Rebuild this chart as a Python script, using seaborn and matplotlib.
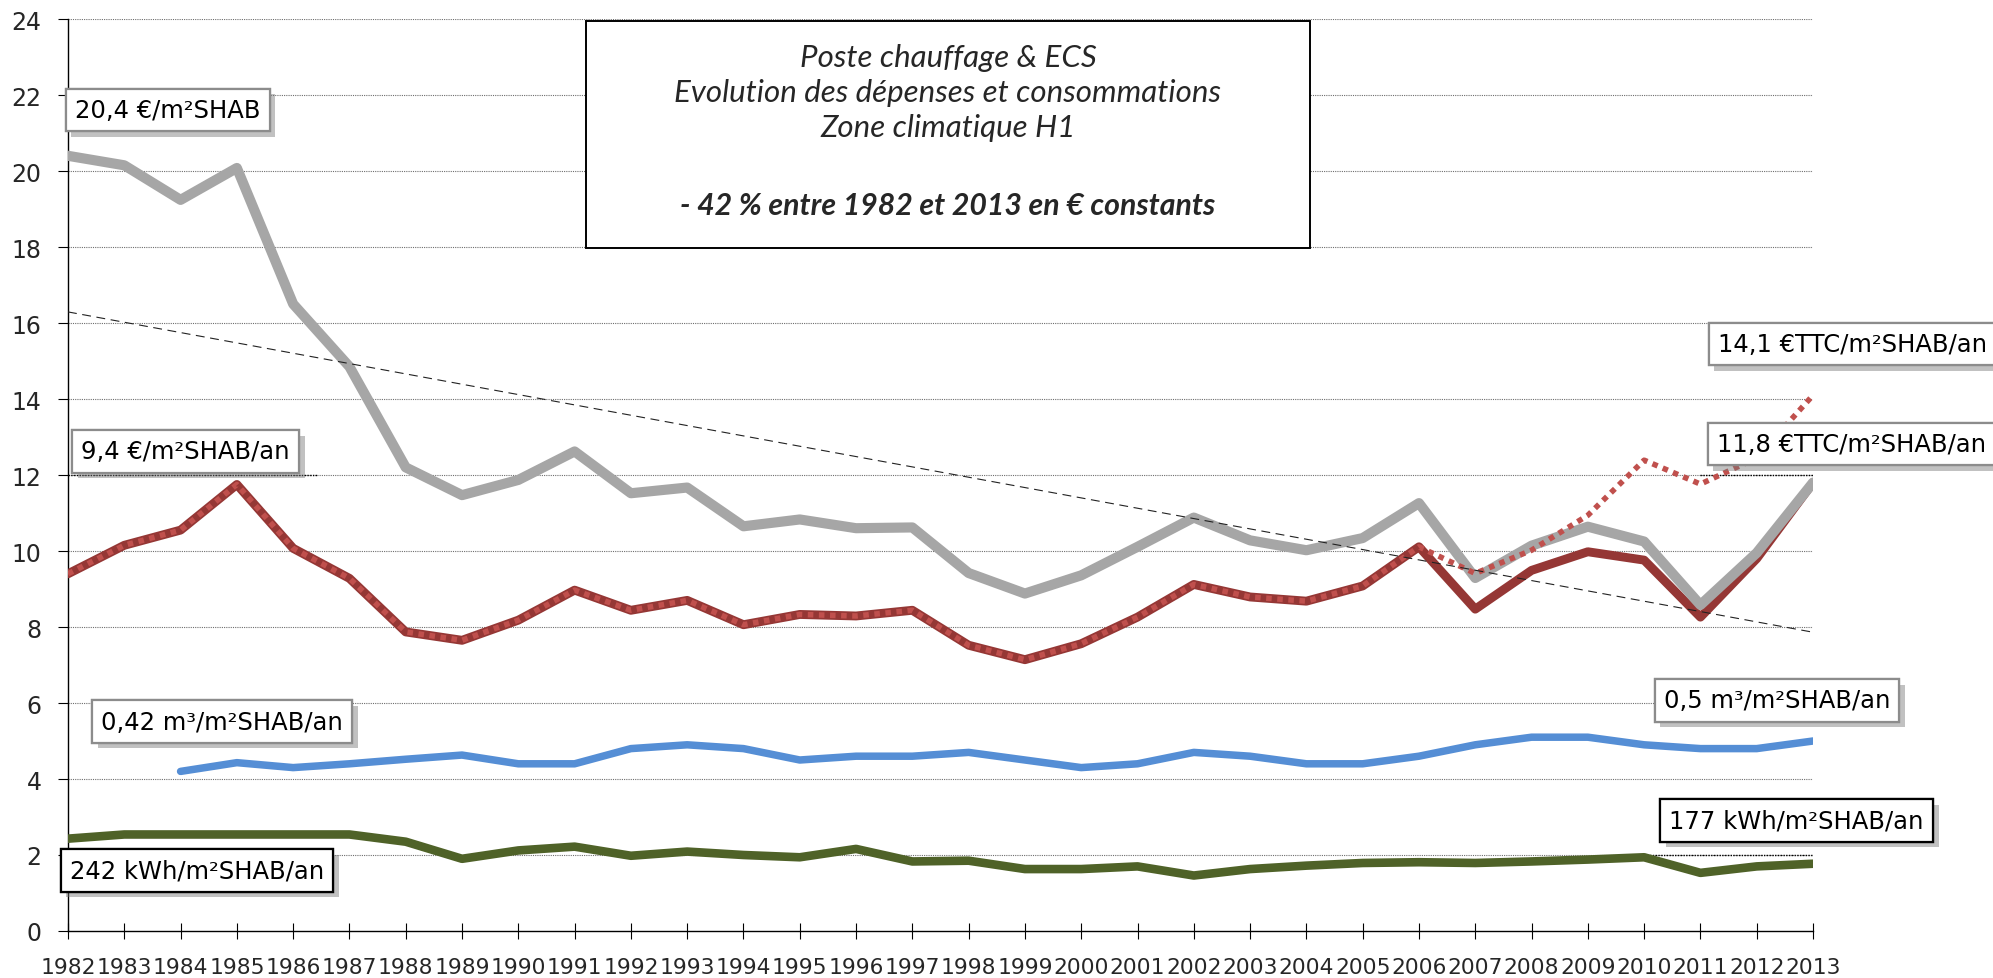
import numpy as np
import matplotlib
matplotlib.use("Agg")
import matplotlib.pyplot as plt
import matplotlib.patheffects as pe
from matplotlib.patches import Rectangle
import seaborn as sns

# ---------------- data ----------------
years = list(range(1982, 2014))
depenses_gris = [20.4, 20.15, 19.24, 20.08, 16.5, 14.85, 12.2, 11.47, 11.87, 12.62,
                 11.52, 11.67, 10.65, 10.83, 10.6, 10.62, 9.42, 8.88, 9.36, 10.11,
                 10.88, 10.28, 10.02, 10.34, 11.26, 9.29, 10.14, 10.64, 10.25, 8.58,
                 9.95, 11.8]
depenses_rouge = [9.4, 10.15, 10.55, 11.75, 10.07, 9.28, 7.87, 7.65, 8.18, 8.97,
                  8.44, 8.70, 8.06, 8.33, 8.29, 8.44, 7.52, 7.14, 7.56, 8.26,
                  9.12, 8.79, 8.68, 9.08, 10.11, 8.47, 9.49, 9.98, 9.76, 8.26,
                  9.8, 11.8]
depenses_pointille = [9.4, 10.15, 10.55, 11.75, 10.07, 9.28, 7.87, 7.65, 8.18, 8.97,
                      8.44, 8.70, 8.06, 8.33, 8.29, 8.44, 7.52, 7.14, 7.56, 8.26,
                      9.12, 8.79, 8.68, 9.08, 10.11, 9.41, 10.02, 10.94, 12.39, 11.76,
                      12.45, 14.1]
years_gaz = list(range(1984, 2014))
gaz_m3 = [4.2, 4.43, 4.3, 4.4, 4.52, 4.63, 4.4, 4.4, 4.8, 4.9,
          4.8, 4.5, 4.6, 4.6, 4.7, 4.5, 4.3, 4.4, 4.7, 4.6,
          4.4, 4.4, 4.6, 4.9, 5.1, 5.1, 4.9, 4.8, 4.8, 5.0]
conso_kwh = [2.43, 2.54, 2.54, 2.54, 2.54, 2.54, 2.35, 1.9, 2.12, 2.22,
             1.98, 2.09, 2.0, 1.94, 2.16, 1.83, 1.85, 1.63, 1.63, 1.70,
             1.46, 1.63, 1.72, 1.79, 1.81, 1.79, 1.83, 1.88, 1.94, 1.53,
             1.70, 1.77]
yticks = list(range(0, 25, 2))

title_lines = ["Poste chauffage & ECS",
               "Evolution des dépenses et consommations",
               "Zone climatique H1"]
title_bold = "- 42 % entre 1982 et 2013 en € constants"

# labels: (text, x, y, edge colour)
labels = [
    ("20,4 €/m²SHAB", 1983.77, 21.61, "#8c8c8c"),
    ("9,4 €/m²SHAB/an", 1984.09, 12.62, "#8c8c8c"),
    ("0,42 m³/m²SHAB/an", 1984.74, 5.51, "#8c8c8c"),
    ("242 kWh/m²SHAB/an", 1984.29, 1.59, "#000000"),
    ("14,1 €TTC/m²SHAB/an", 2013.70, 15.45, "#8c8c8c"),
    ("11,8 €TTC/m²SHAB/an", 2013.68, 12.81, "#8c8c8c"),
    ("0,5 m³/m²SHAB/an", 2012.36, 6.07, "#8c8c8c"),
    ("177 kWh/m²SHAB/an", 2012.71, 2.91, "#000000"),
]
leaders = [(1982, 1986.45, 12), (2011.0, 2013, 12), (2010.0, 2013, 2)]

# ---------------- figure ----------------
sns.set_theme(style="white")
plt.rcParams['font.family'] = ['DejaVu Sans']

W, H = 1993, 979
fig = plt.figure(figsize=(W / 100, H / 100), dpi=100)
ax = fig.add_axes([68 / W, 1 - 932 / H, (1813 - 68) / W, (932 - 20) / H])

# grid
for v in yticks[1:]:
    ax.axhline(v, color="#6e6e6e", lw=0.8, linestyle=(0, (1, 1)), zorder=0.5)
for x0, x1, v in leaders:
    ax.plot([x0, x1], [v, v], color="black", lw=1.0, linestyle=(0, (1, 1)),
            zorder=0.6, clip_on=False)

# series
sns.lineplot(x=years, y=depenses_rouge, color="#953735", lw=6.4, ax=ax,
             errorbar=None, zorder=3)
sns.lineplot(x=years, y=depenses_gris, color="#a6a6a6", lw=7.3, ax=ax,
             errorbar=None, zorder=4)
sns.lineplot(x=years, y=depenses_pointille, color="#c0504d", lw=4.0, ax=ax,
             errorbar=None, zorder=5, linestyle=(0, (1, 1)))
sns.lineplot(x=years_gaz, y=gaz_m3, color="#558ed5", lw=5.4, ax=ax,
             errorbar=None, zorder=3)
sns.lineplot(x=years, y=conso_kwh, color="#4f6228", lw=6.2, ax=ax,
             errorbar=None, zorder=3)

# linear trend of the grey series
coef = np.polyfit(years, depenses_gris, 1)
trend = np.polyval(coef, years)
sns.lineplot(x=years, y=trend, color="#222222", lw=0.8, ax=ax,
             errorbar=None, zorder=6, linestyle=(0, (8, 5)))

# axes
ax.set_xlim(1982, 2013)
ax.set_ylim(0, 24)
ax.set_xticks(years)
ax.set_xticklabels([str(y) for y in years])
ax.set_yticks(yticks)
ax.set_xlabel("")
ax.set_ylabel("")
for s in ["top", "right"]:
    ax.spines[s].set_visible(False)
for s in ["left", "bottom"]:
    ax.spines[s].set_color("black")
    ax.spines[s].set_linewidth(1.0)
ax.tick_params(axis="y", direction="out", length=7, width=0.8, color="black",
               labelsize=17, pad=12, left=True)
ax.tick_params(axis="x", direction="inout", length=12, width=0.8, color="black",
               labelsize=15.7, pad=13, bottom=True)
ax.grid(False)

# data labels
for txt, x, y, ec in labels:
    t = ax.text(x, y, txt, ha="center", va="center", fontsize=17.5, color="black",
                zorder=10, clip_on=False,
                bbox=dict(boxstyle="square,pad=0.38", fc="white", ec=ec, lw=1.6))
    t.get_bbox_patch().set_path_effects(
        [pe.withSimplePatchShadow(offset=(4, -4), shadow_rgbFace="#777777", alpha=0.45),
         pe.Normal()])

# title box
fig.patches.append(Rectangle((586 / W, 1 - 249 / H), (1310 - 586) / W, (249 - 22) / H,
                             transform=fig.transFigure, fc="white", ec="black",
                             lw=1.4, zorder=20))
cx = 948 / W
for line, yp in zip(title_lines, [58, 93, 128]):
    fig.text(cx, 1 - yp / H, line, ha="center", va="center", fontsize=22.5,
             family="Lato", style="italic", zorder=21)
fig.text(cx, 1 - 206 / H, title_bold, ha="center", va="center", fontsize=21.8,
         family="Lato", style="italic", weight="bold", zorder=21)

fig.savefig("out.png", dpi=100, facecolor="white")
